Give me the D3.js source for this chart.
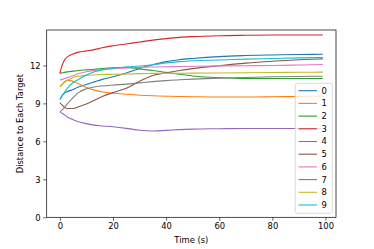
<!DOCTYPE html>
<html>
<head>
<meta charset="utf-8">
<script src="https://cdn.jsdelivr.net/npm/d3@7"></script>
<style>
  body { margin: 0; background: #fff; }
  svg { display: block; font-family: "DejaVu Sans", sans-serif; }
</style>
</head>
<body>
<div id="chart"></div>
<script>
// time samples (s)
var times = [0, 1, 2, 3, 5, 7, 10, 13, 16, 20, 25, 30, 35, 40, 45, 50, 60, 70, 80, 90, 99];

// distance to each target, one array per target
var target0 = [9.3, 9.65, 9.85, 9.95, 10.1, 10.3, 10.5, 10.7, 10.9, 11.1, 11.4, 11.75, 12.05, 12.3, 12.45, 12.55, 12.7, 12.78, 12.83, 12.87, 12.88];
var target1 = [10.3, 10.55, 10.75, 10.82, 10.75, 10.55, 10.25, 10.05, 9.9, 9.8, 9.72, 9.65, 9.6, 9.57, 9.55, 9.53, 9.5, 9.5, 9.52, 9.55, 9.57];
var target2 = [11.37, 11.42, 11.47, 11.5, 11.55, 11.6, 11.65, 11.7, 11.76, 11.82, 11.85, 11.72, 11.6, 11.45, 11.3, 11.17, 11.03, 10.97, 10.97, 10.97, 10.97];
var target3 = [11.37, 12.1, 12.5, 12.7, 12.9, 13.05, 13.15, 13.25, 13.4, 13.55, 13.7, 13.85, 14.0, 14.12, 14.22, 14.28, 14.35, 14.38, 14.4, 14.4, 14.4];
var target4 = [8.33, 8.2, 8.05, 7.9, 7.7, 7.55, 7.4, 7.28, 7.22, 7.15, 7.03, 6.88, 6.82, 6.87, 6.93, 6.97, 7.0, 7.02, 7.02, 7.02, 7.02];
var target5 = [9.07, 8.85, 8.65, 8.6, 8.6, 8.73, 8.95, 9.25, 9.55, 9.85, 10.2, 10.75, 11.2, 11.42, 11.6, 11.75, 11.98, 12.18, 12.33, 12.45, 12.52];
var target6 = [10.85, 10.9, 10.97, 11.05, 11.2, 11.35, 11.5, 11.6, 11.68, 11.75, 11.8, 11.85, 11.88, 11.9, 11.92, 11.93, 11.96, 11.98, 12.0, 12.03, 12.07];
var target7 = [8.33, 8.5, 8.75, 9.0, 9.45, 9.85, 10.15, 10.3, 10.38, 10.45, 10.52, 10.62, 10.72, 10.8, 10.87, 10.92, 11.0, 11.05, 11.1, 11.13, 11.15];
var target8 = [10.3, 10.5, 10.7, 10.85, 11.05, 11.15, 11.22, 11.25, 11.28, 11.3, 11.32, 11.35, 11.37, 11.38, 11.38, 11.39, 11.4, 11.42, 11.44, 11.46, 11.47];
var target9 = [9.3, 9.65, 9.95, 10.25, 10.65, 10.9, 11.25, 11.5, 11.65, 11.77, 11.87, 11.95, 12.05, 12.2, 12.3, 12.37, 12.43, 12.5, 12.55, 12.6, 12.62];

var seriesNames = ["0", "1", "2", "3", "4", "5", "6", "7", "8", "9"];
var seriesValues = [target0, target1, target2, target3, target4, target5, target6, target7, target8, target9];

var xTicks = [0, 20, 40, 60, 80, 100];
var yTicks = [0, 3, 6, 9, 12];

var width = 374;
var height = 249;
var plotLeft = 46.7, plotRight = 336, plotTop = 30, plotBottom = 217.3;
var fontSize = 8.4;

var svg = d3.select("#chart")
    .append("svg")
    .attr("width", width)
    .attr("height", height);

var x = d3.scaleLinear().domain([-4.95, 103.95]).range([plotLeft, plotRight]);
var y = d3.scaleLinear().domain([0, 14.8]).range([plotBottom, plotTop]);

// lines
var line = d3.line()
    .x(function(d, i) { return x(times[i]); })
    .y(function(d) { return y(d); })
    .curve(d3.curveMonotoneX);

var g = svg.append("g");
seriesValues.forEach(function(vals, i) {
    g.append("path")
        .attr("d", line(vals))
        .attr("fill", "none")
        .attr("stroke", d3.schemeCategory10[i])
        .attr("stroke-width", 1.1);
});

// axes
var xAxis = svg.append("g")
    .attr("transform", "translate(0," + plotBottom + ")")
    .call(d3.axisBottom(x).tickValues(xTicks).tickSize(3.5).tickPadding(2.5));
var yAxis = svg.append("g")
    .attr("transform", "translate(" + plotLeft + ",0)")
    .call(d3.axisLeft(y).tickValues(yTicks).tickSize(3.5).tickPadding(2.5));

[xAxis, yAxis].forEach(function(a) {
    a.select(".domain").remove();
    a.selectAll("line").attr("stroke", "#000").attr("stroke-width", 0.6);
    a.selectAll("text")
        .attr("fill", "#000")
        .style("font-size", fontSize + "px")
        .style("font-family", "DejaVu Sans, sans-serif");
});

// frame
svg.append("rect")
    .attr("x", plotLeft)
    .attr("y", plotTop)
    .attr("width", plotRight - plotLeft)
    .attr("height", plotBottom - plotTop)
    .attr("fill", "none")
    .attr("stroke", "#000")
    .attr("stroke-width", 0.7);

// axis labels
svg.append("text")
    .attr("x", (plotLeft + plotRight) / 2)
    .attr("y", 243)
    .attr("text-anchor", "middle")
    .style("font-size", fontSize + "px")
    .text("Time (s)");

svg.append("text")
    .attr("transform", "translate(23," + ((plotTop + plotBottom) / 2) + ") rotate(-90)")
    .attr("text-anchor", "middle")
    .style("font-size", fontSize + "px")
    .text("Distance to Each Target");

// legend
var legend = svg.append("g");
legend.append("rect")
    .attr("x", 295.3)
    .attr("y", 83.3)
    .attr("width", 37)
    .attr("height", 130)
    .attr("rx", 2)
    .attr("fill", "#fff")
    .attr("fill-opacity", 0.8)
    .attr("stroke", "#ccc")
    .attr("stroke-width", 0.7);

seriesNames.forEach(function(name, i) {
    var ly = 90.7 + i * 12.7;
    legend.append("line")
        .attr("x1", 298.5)
        .attr("x2", 317)
        .attr("y1", ly)
        .attr("y2", ly)
        .attr("stroke", d3.schemeCategory10[i])
        .attr("stroke-width", 1.1);
    legend.append("text")
        .attr("x", 321.5)
        .attr("y", ly)
        .attr("dy", "0.35em")
        .style("font-size", fontSize + "px")
        .text(name);
});
</script>
</body>
</html>
